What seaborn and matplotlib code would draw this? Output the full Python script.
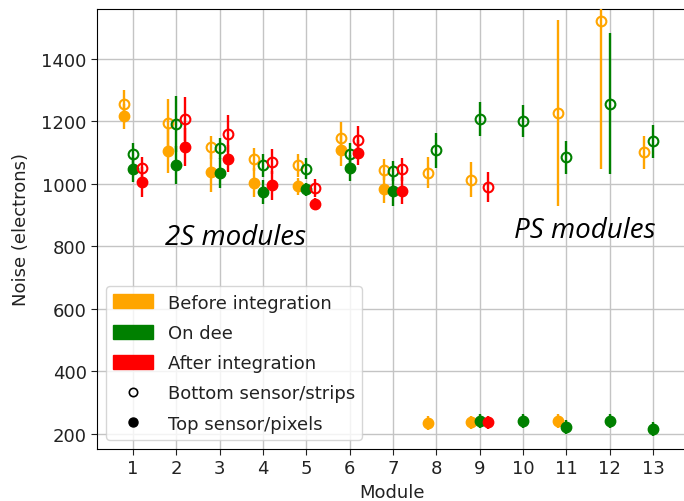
import numpy as np
import pandas as pd
import seaborn as sns
import matplotlib.pyplot as plt
from matplotlib.patches import Patch
from matplotlib.lines import Line2D

# ================= DATA =================
stages = ["Before integration", "On dee", "After integration"]
stage_colors = ["orange", "green", "red"]
stage_offsets = [-0.2, 0.0, 0.2]

module_ticks = list(range(1, 14))

# 2S modules (1-7): bottom sensor (strips) and top sensor
modules_2s = [1, 2, 3, 4, 5, 6, 7]
before_bottom_2s = [1257, 1196, 1117, 1079, 1060, 1147, 1046]
before_bottom_2s_err = [45, 77, 38, 36, 37, 51, 33]
before_top_2s = [1217, 1107, 1039, 1004, 992, 1108, 985]
before_top_2s_err = [40, 71, 65, 46, 28, 52, 46]
ondee_bottom_2s = [1097, 1191, 1114, 1060, 1049, 1097, 1040]
ondee_bottom_2s_err = [35, 89, 33, 37, 34, 35, 32]
ondee_top_2s = [1047, 1062, 1036, 974, 983, 1051, 978]
ondee_top_2s_err = [40, 61, 48, 39, 21, 43, 48]
after_bottom_2s = [1050, 1207, 1161, 1071, 987, 1140, 1047]
after_bottom_2s_err = [35, 71, 59, 40, 30, 44, 36]
after_top_2s = [1007, 1118, 1081, 996, 935, 1100, 978]
after_top_2s_err = [48, 62, 43, 47, 19, 40, 43]

# PS modules (8-13): strips and pixels
before_bottom_ps_mod = [8, 9, 11, 12, 13]
before_bottom_ps = [1036, 1014, 1228, 1521, 1102]
before_bottom_ps_err = [50, 55, 297, 472, 53]
ondee_bottom_ps_mod = [8, 9, 10, 11, 12, 13]
ondee_bottom_ps = [1108, 1207, 1201, 1085, 1257, 1136]
ondee_bottom_ps_err = [56, 54, 52, 52, 225, 52]
after_bottom_ps_mod = [9]
after_bottom_ps = [989]
after_bottom_ps_err = [48]

before_top_ps_mod = [8, 9, 11]
before_top_ps = [234, 237, 241]
before_top_ps_err = [22, 22, 22]
ondee_top_ps_mod = [9, 10, 11, 12, 13]
ondee_top_ps = [241, 241, 223, 241, 215]
ondee_top_ps_err = [22, 22, 22, 22, 22]
after_top_ps_mod = [9]
after_top_ps = [237]
after_top_ps_err = [22]

# ================= TABLE =================
rows = []
def add(stage, sensor, mods, vals, errs):
    for m, v, e in zip(mods, vals, errs):
        rows.append({"stage": stage, "sensor": sensor, "module": m, "noise": v, "err": e})

add(stages[0], "bottom", modules_2s, before_bottom_2s, before_bottom_2s_err)
add(stages[0], "top", modules_2s, before_top_2s, before_top_2s_err)
add(stages[1], "bottom", modules_2s, ondee_bottom_2s, ondee_bottom_2s_err)
add(stages[1], "top", modules_2s, ondee_top_2s, ondee_top_2s_err)
add(stages[2], "bottom", modules_2s, after_bottom_2s, after_bottom_2s_err)
add(stages[2], "top", modules_2s, after_top_2s, after_top_2s_err)
add(stages[0], "bottom", before_bottom_ps_mod, before_bottom_ps, before_bottom_ps_err)
add(stages[1], "bottom", ondee_bottom_ps_mod, ondee_bottom_ps, ondee_bottom_ps_err)
add(stages[2], "bottom", after_bottom_ps_mod, after_bottom_ps, after_bottom_ps_err)
add(stages[0], "top", before_top_ps_mod, before_top_ps, before_top_ps_err)
add(stages[1], "top", ondee_top_ps_mod, ondee_top_ps, ondee_top_ps_err)
add(stages[2], "top", after_top_ps_mod, after_top_ps, after_top_ps_err)

df = pd.DataFrame(rows)
df["x"] = df["module"] + df["stage"].map(dict(zip(stages, stage_offsets)))

# ================= PLOT =================
sns.set_style("ticks", {"axes.grid": True, "grid.color": "#c4c4c4",
                        "axes.edgecolor": "black", "xtick.color": "#222222",
                        "ytick.color": "#222222", "text.color": "#222222"})
plt.rcParams["font.family"] = ["DejaVu Sans"]

fig = plt.figure(figsize=(6.84, 5.02), dpi=100)
ax = fig.add_axes([0.142, 0.1036, 0.861, 0.8765])

for stage, color in zip(stages, stage_colors):
    for sensor in ["bottom", "top"]:
        d = df[(df.stage == stage) & (df.sensor == sensor)]
        if sensor == "bottom":
            ax.errorbar(d.x, d.noise, yerr=d.err, fmt="o", color=color,
                        mfc="none", mec=color, ms=7, mew=1.5, elinewidth=1.7,
                        capsize=0, zorder=3)
        else:
            ax.errorbar(d.x, d.noise, yerr=d.err, fmt="o", color=color,
                        ms=7.5, elinewidth=1.7, capsize=0, zorder=3)

ax.set_xlim(0.169, 13.76)
ax.set_ylim(152, 1560)
ax.set_xticks(module_ticks)
ax.set_yticks([200, 400, 600, 800, 1000, 1200, 1400])
ax.tick_params(labelsize=13, length=4)
ax.grid(True, linewidth=1.0)
ax.set_xlabel("Module", fontsize=13, color="#222222")
ax.set_ylabel("Noise (electrons)", fontsize=13, color="#222222", labelpad=8)
for s in ["top", "left", "bottom"]:
    ax.spines[s].set_visible(True)
ax.spines["right"].set_visible(False)

ax.text(1.74, 809, "2S modules", fontsize=20, style="italic",
        family="Open Sans", color="black")
ax.text(9.78, 830, "PS modules", fontsize=20, style="italic",
        family="Open Sans", color="black")

handles = [Patch(color=c, label=s) for s, c in zip(stages, stage_colors)]
handles += [
    Line2D([], [], marker="o", ls="", mfc="none", mec="black", ms=6, mew=1.2,
           label="Bottom sensor/strips"),
    Line2D([], [], marker="o", ls="", color="black", ms=6.5,
           label="Top sensor/pixels"),
]
ax.legend(handles=handles, loc="lower left", fontsize=13, handlelength=2.2,
          handleheight=0.8, labelspacing=0.68, borderaxespad=0.5)

plt.savefig("out.png", dpi=100)
